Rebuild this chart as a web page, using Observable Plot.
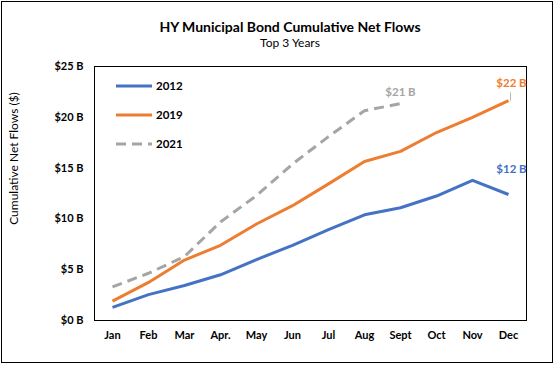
<!DOCTYPE html>
<html><head><meta charset="utf-8">
<script src="https://cdn.jsdelivr.net/npm/d3@7"></script>
<script src="https://cdn.jsdelivr.net/npm/@observablehq/plot@0.6"></script>
<style>
body{margin:0;background:#fff;font-family:Lato,"Open Sans",sans-serif;}
#wrap{position:relative;width:555px;height:367px;}
#border{position:absolute;left:1px;top:1px;width:550px;height:360px;border:1px solid #000;box-sizing:content-box;pointer-events:none;}
#title{position:absolute;left:0;width:580px;top:18px;text-align:center;font-weight:bold;font-size:14px;color:#000;}
#sub{position:absolute;left:0;width:580px;top:35px;text-align:center;font-size:12px;color:#000;}
#legend{position:absolute;left:116px;top:71px;}
.li{display:flex;align-items:center;height:29px;font-weight:bold;font-size:11.5px;}
.li svg{margin-right:4px;}
</style></head>
<body>
<div id="wrap"><div id="chart"></div><div id="title"></div><div id="sub"></div><div id="legend"></div><div id="border"></div></div>
<script>
const months = ["Jan","Feb","Mar","Apr.","May","Jun","Jul","Aug","Sept","Oct","Nov","Dec"];
const years = ["2012","2019","2021"];
const colors = ["#4472C4","#ED7D31","#A5A5A5"];
const dashes = [null,null,"10,6"];
const v2012 = [1.3,2.55,3.45,4.5,6.0,7.4,8.95,10.4,11.1,12.25,13.8,12.4];
const v2019 = [1.9,3.75,5.95,7.4,9.5,11.3,13.45,15.65,16.65,18.5,20.0,21.65];
const v2021 = [3.3,4.65,6.3,9.7,12.3,15.4,18.1,20.65,21.35];
const series = [v2012,v2019,v2021];
const yTicks = [0,5,10,15,20,25];
const titleText = "HY Municipal Bond Cumulative Net Flows";
const subText = "Top 3 Years";
const yLabel = "Cumulative Net Flows ($)";
const endLabels = [
  {year:"2012", month:"Dec", value:12.4, text:"$12 B", dx:3, dy:-25},
  {year:"2019", month:"Dec", value:21.65, text:"$22 B", dx:3, dy:-17},
  {year:"2021", month:"Sept", value:21.35, text:"$21 B", dx:0, dy:-11}
];

const rows = years.flatMap((y,i)=>series[i].map((v,j)=>({year:y, month:months[j], value:v})));
const colorOf = y => colors[years.indexOf(y)];

const marks = [
  Plot.frame({stroke:"#000", strokeWidth:1}),
  Plot.axisY({ticks:yTicks, tickSize:0, tickPadding:11, tickFormat:d=>`$${d} B`, label:null, fontWeight:"bold", fontSize:11}),
  Plot.axisX({tickSize:0, tickPadding:11, label:null, fontWeight:"bold", fontSize:11}),
  ...years.map((y,i)=>Plot.line(rows.filter(r=>r.year===y), {x:"month", y:"value", stroke:colors[i], strokeWidth:3, strokeDasharray:dashes[i], strokeLinejoin:"round", strokeLinecap:"butt"})),
  Plot.link(endLabels.filter(d=>d.year==="2019"), {x1:"month", x2:"month", y1:"value", y2:d=>d.value+0.8, stroke:"#A5A5A5", strokeWidth:0.8, dx:2}),
  ...endLabels.map(d=>Plot.text([d], {x:"month", y:"value", text:"text", fill:colorOf(d.year), dx:d.dx, dy:d.dy, fontWeight:"bold", fontSize:11.5})),
  Plot.text([yLabel], {frameAnchor:"left", text:d=>d, rotate:-90, textAnchor:"middle", dx:-80, dy:-35, fontSize:12, fill:"#000"})
];

const chart = Plot.plot({
  width:555, height:367,
  marginLeft:94, marginRight:29, marginTop:66, marginBottom:47,
  style:{fontFamily:"Lato, 'Open Sans', sans-serif", color:"#000", background:"transparent"},
  x:{type:"point", domain:months, padding:0.5},
  y:{domain:[0,25]},
  marks
});
document.getElementById("chart").appendChild(chart);
document.getElementById("title").textContent = titleText;
document.getElementById("sub").textContent = subText;
const leg = document.getElementById("legend");
years.forEach((y,i)=>{
  const d = document.createElement("div"); d.className="li";
  d.innerHTML = `<svg width="36" height="6"><line x1="0" y1="3" x2="36" y2="3" stroke="${colors[i]}" stroke-width="3" ${dashes[i]?`stroke-dasharray="${dashes[i]}"`:""}/></svg><span>${y}</span>`;
  leg.appendChild(d);
});
</script>
</body></html>
